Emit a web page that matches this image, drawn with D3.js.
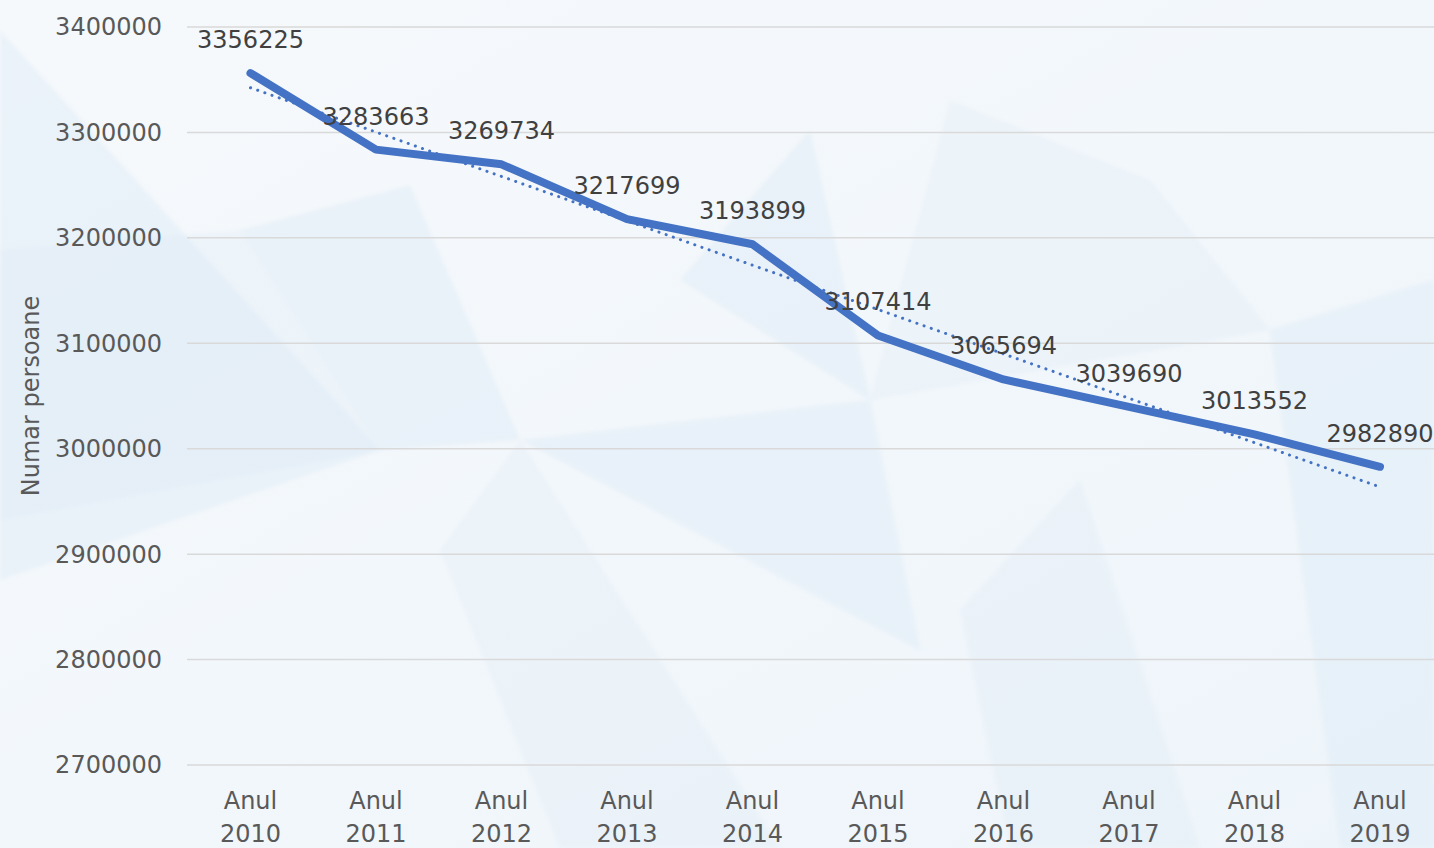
<!DOCTYPE html>
<html>
<head>
<meta charset="utf-8">
<script src="https://d3js.org/d3.v7.min.js"></script>
<style>
  body { margin: 0; overflow: hidden; background: #f4f8fb; }
  svg text { font-family: "DejaVu Sans", sans-serif; }
</style>
</head>
<body>
<script>
// data
var years = ["2010", "2011", "2012", "2013", "2014", "2015", "2016", "2017", "2018", "2019"];
var persons = [3356225, 3283663, 3269734, 3217699, 3193899, 3107414, 3065694, 3039690, 3013552, 2982890];
var yTicks = [2700000, 2800000, 2900000, 3000000, 3100000, 3200000, 3300000, 3400000];

var width = 1434, height = 848;
var svg = d3.select("body").append("svg")
    .attr("width", width)
    .attr("height", height);

// soft background with faint polygons
var defs = svg.append("defs");
var grad = defs.append("linearGradient").attr("id", "bg")
    .attr("x1", "0").attr("y1", "0").attr("x2", "1").attr("y2", "1");
grad.append("stop").attr("offset", "0").attr("stop-color", "#f6f9fc");
grad.append("stop").attr("offset", "1").attr("stop-color", "#eef5fa");
svg.append("rect").attr("width", width).attr("height", height).attr("fill", "url(#bg)");
defs.append("filter").attr("id", "soft")
    .append("feGaussianBlur").attr("stdDeviation", 2);

var shapes = [
    [[0, 30], [380, 450], [0, 580]],
    [[0, 250], [240, 230], [380, 450], [0, 520]],
    [[240, 230], [410, 185], [520, 440], [380, 450]],
    [[440, 550], [520, 440], [780, 848], [560, 848]],
    [[680, 280], [810, 130], [870, 400]],
    [[950, 100], [1150, 180], [1270, 330], [870, 400]],
    [[1270, 330], [1434, 280], [1434, 848], [1340, 848]],
    [[960, 610], [1080, 480], [1200, 848], [1010, 848]],
    [[520, 440], [870, 400], [920, 650]]
];
svg.append("g").attr("filter", "url(#soft)").selectAll("polygon")
    .data(shapes)
    .join("polygon")
    .attr("points", function (d) { return d.map(function (p) { return p.join(","); }).join(" "); })
    .attr("fill", "#d9e9f5")
    .attr("fill-opacity", function (d, i) { return i % 2 ? 0.25 : 0.4; });

// scales
var x = d3.scaleBand().domain(years).range([187.75, 1442.75]);
var y = d3.scaleLinear().domain([2700000, 3400000]).range([765, 27]);
var cx = function (d, i) { return x(years[i]) + x.bandwidth() / 2; };

// gridlines
svg.append("g").selectAll("line")
    .data(yTicks)
    .join("line")
    .attr("x1", 187).attr("x2", width)
    .attr("y1", function (d) { return y(d); })
    .attr("y2", function (d) { return y(d); })
    .attr("stroke", "#d9d9d9")
    .attr("stroke-width", 1.5);

// y tick labels
svg.append("g").selectAll("text")
    .data(yTicks)
    .join("text")
    .attr("x", 162)
    .attr("y", function (d) { return y(d); })
    .attr("dy", "0.35em")
    .attr("text-anchor", "end")
    .attr("fill", "#595959")
    .style("font-size", "24px")
    .text(function (d) { return d; });

// y axis title
svg.append("text")
    .attr("transform", "translate(39,396) rotate(-90)")
    .attr("text-anchor", "middle")
    .attr("fill", "#595959")
    .style("font-size", "24px")
    .text("Numar persoane");

// x labels
var xl = svg.append("g").selectAll("text")
    .data(years)
    .join("text")
    .attr("text-anchor", "middle")
    .attr("fill", "#595959")
    .style("font-size", "24px");
xl.append("tspan")
    .attr("x", function (d) { return x(d) + x.bandwidth() / 2; })
    .attr("y", 809)
    .text("Anul");
xl.append("tspan")
    .attr("x", function (d) { return x(d) + x.bandwidth() / 2; })
    .attr("y", 842)
    .text(function (d) { return d; });

// linear trendline (least squares on the series)
var idx = d3.range(persons.length);
var mx = d3.mean(idx), my = d3.mean(persons);
var slope = d3.sum(idx, function (i) { return (i - mx) * (persons[i] - my); }) /
    d3.sum(idx, function (i) { return (i - mx) * (i - mx); });
var icpt = my - slope * mx;
var trend = idx.map(function (i) { return icpt + slope * i; });

svg.append("path")
    .datum(trend)
    .attr("d", d3.line().x(cx).y(function (d) { return y(d); }))
    .attr("fill", "none")
    .attr("stroke", "#4472c4")
    .attr("stroke-width", 3)
    .attr("stroke-linecap", "round")
    .attr("stroke-dasharray", "0.1 7.5");

// main line
svg.append("path")
    .datum(persons)
    .attr("d", d3.line().x(cx).y(function (d) { return y(d); }))
    .attr("fill", "none")
    .attr("stroke", "#4472c4")
    .attr("stroke-width", 8)
    .attr("stroke-linecap", "round")
    .attr("stroke-linejoin", "round");

// data labels
svg.append("g").selectAll("text")
    .data(persons)
    .join("text")
    .attr("x", cx)
    .attr("y", function (d) { return y(d) - 25; })
    .attr("text-anchor", "middle")
    .attr("fill", "#404040")
    .style("font-size", "24px")
    .text(function (d) { return d; });
</script>
</body>
</html>
